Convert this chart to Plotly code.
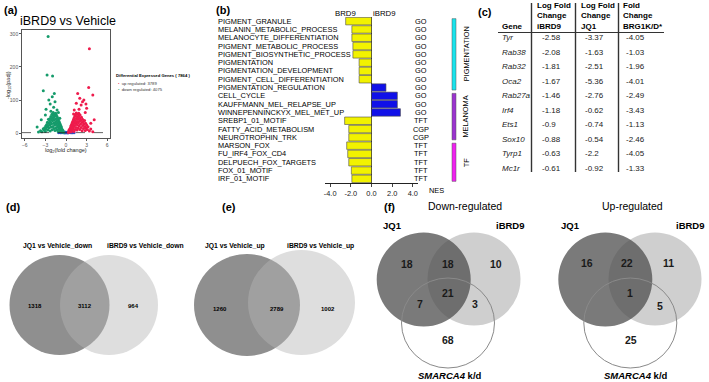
import plotly.graph_objects as go

W, H = 709, 382
FONT = "Liberation Sans, Arial, sans-serif"


def X(p):
    return p / W


def Y(p):
    return 1 - p / H


# ---------------- (a) volcano data ----------------
down_x = [-0.35, -0.4, -0.45, -0.5, -0.55, -0.6, -0.65, -0.7, -0.7, -0.75, -0.8, -0.8, -0.85, -0.9, -0.9,
          -0.95, -1.0, -1.0, -1.05, -1.1, -1.1, -1.15, -1.2, -1.2, -1.25, -1.3, -1.3, -1.35, -1.4, -1.4,
          -1.45, -1.5, -1.5, -1.55, -1.6, -1.6, -1.65, -1.7, -1.7, -1.75, -1.8, -1.8, -1.85, -1.9, -1.9,
          -1.95, -2.0, -2.0, -2.05, -2.1, -2.1, -2.15, -2.2, -2.25, -2.3, -2.3, -2.35, -2.4, -2.45, -2.5,
          -2.55, -2.6, -2.65, -2.7, -2.75, -2.8, -2.9, -2.95, -3.0, -3.1, -3.2, -3.3, -3.5, -3.7, -4.0,
          -2.6, -2.75, -1.95, -3.3, -2.0, -1.6, -2.3, -1.8, -2.9, -1.3, -2.5, -1.1, -3.6, -4.2, -1.7,
          -2.2, -3.0, -0.9]
down_y = [2, 5, 8, 3, 11, 6, 15, 9, 20, 4, 13, 24, 18, 7, 30,
          22, 12, 35, 27, 17, 40, 5, 31, 45, 22, 10, 50, 37, 28, 55,
          16, 43, 60, 33, 8, 52, 24, 58, 40, 14, 47, 30, 62, 20, 53,
          37, 10, 45, 57, 28, 40, 18, 50, 33, 6, 44, 24, 38, 15, 30,
          42, 22, 9, 33, 18, 26, 12, 21, 5, 16, 9, 13, 4, 7, 3,
          292, 176, 173, 128, 110, 95, 88, 78, 72, 70, 100, 62, 40, 18, 120,
          66, 55, 45]
up_x = [0.35, 0.4, 0.45, 0.5, 0.55, 0.6, 0.65, 0.7, 0.7, 0.75, 0.8, 0.8, 0.85, 0.9, 0.9,
        0.95, 1.0, 1.0, 1.05, 1.1, 1.1, 1.15, 1.2, 1.2, 1.25, 1.3, 1.3, 1.35, 1.4, 1.4,
        1.45, 1.5, 1.5, 1.55, 1.6, 1.6, 1.65, 1.7, 1.7, 1.75, 1.8, 1.8, 1.85, 1.9, 1.9,
        1.95, 2.0, 2.0, 2.05, 2.1, 2.15, 2.2, 2.25, 2.3, 2.35, 2.4, 2.45, 2.5, 2.55, 2.6,
        2.7, 2.75, 2.8, 2.85, 2.9, 3.0, 3.1, 3.2, 3.4, 3.6, 3.9,
        3.4, 3.3, 3.9, 1.7, 2.6, 2.2, 1.5, 3.0, 1.2, 2.0, 2.8, 4.1, 3.6, 1.9, 2.4, 2.9, 1.1]
up_y = [2, 6, 9, 3, 12, 7, 16, 10, 21, 4, 14, 26, 19, 8, 31,
        23, 13, 36, 28, 18, 42, 5, 32, 47, 23, 11, 52, 38, 29, 56,
        17, 44, 61, 34, 9, 50, 25, 57, 41, 15, 46, 31, 60, 21, 52,
        36, 11, 44, 55, 27, 39, 17, 48, 32, 7, 42, 23, 35, 14, 28,
        38, 20, 8, 30, 16, 24, 11, 19, 6, 12, 4,
        255, 138, 115, 120, 100, 85, 90, 75, 70, 105, 62, 40, 30, 72, 95, 88, 58]
ns_x = [-1.1, -0.9, -0.8, -0.7, -0.6, -0.5, -0.4, -0.3, -0.25, -0.2, -0.15, -0.1, -0.05, 0.0,
        0.05, 0.1, 0.15, 0.2, 0.25, 0.3, 0.4, 0.5, 0.6, 0.7, 0.8, 0.9, 1.0, 1.2]
ns_y = [0.6, 1.2, 0.3, 2.1, 0.8, 1.6, 0.4, 2.6, 1.0, 0.2, 1.8, 0.7, 2.9, 0.3,
        1.4, 0.9, 2.3, 0.5, 1.7, 0.2, 1.1, 2.4, 0.6, 1.5, 0.4, 1.0, 0.3, 0.8]
n_up, n_down = 3789, 4075
volcano_xticks = [-6, -3, 0, 3, 6]
volcano_yticks = [0, 100, 200, 300]

# ---------------- (b) GSEA data ----------------
gsea_terms = ["PIGMENT_GRANULE", "MELANIN_METABOLIC_PROCESS", "MELANOCYTE_DIFFERENTIATION",
              "PIGMENT_METABOLIC_PROCESS", "PIGMENT_BIOSYNTHETIC_PROCESS", "PIGMENTATION",
              "PIGMENTATION_DEVELOPMENT", "PIGMENT_CELL_DIFFERENTIATION", "PIGMENTATION_REGULATION",
              "CELL_CYCLE", "KAUFFMANN_MEL_RELAPSE_UP", "WINNEPENNINCKYX_MEL_MET_UP",
              "SREBP1_01_MOTIF", "FATTY_ACID_METABOLISM", "NEUROTROPHIN_TRK", "MARSON_FOX",
              "FU_IRF4_FOX_CD4", "DELPUECH_FOX_TARGETS", "FOX_01_MOTIF", "IRF_01_MOTIF"]
gsea_nes = [-2.5, -1.9, -1.9, -1.8, -1.8, -1.2, -1.2, -1.2, 1.4, 2.5, 2.5, 2.8,
            -2.6, -2.2, -2.2, -2.4, -2.3, -2.2, -1.95, -1.9]
gsea_source = ["GO"] * 12 + ["TFT", "CGP", "CGP", "TFT", "TFT", "TFT", "TFT", "TFT"]
gsea_groups = ["PIGMENTATION", "MELANOMA", "TF"]
gsea_group_sizes = [9, 6, 5]
gsea_group_colors = ["#19E3EC", "#9B33CF", "#F020F0"]
nes_ticks = [-4, -2, 0, 2, 4]

# ---------------- (c) table data ----------------
genes = ["Tyr", "Rab38", "Rab32", "Oca2", "Rab27a", "Irf4", "Ets1", "Sox10", "Tyrp1", "Mc1r"]
lfc_ibrd9 = [-2.58, -2.08, -1.81, -1.67, -1.46, -1.18, -0.9, -0.88, -0.63, -0.61]
lfc_jq1 = [-3.37, -1.63, -2.51, -5.36, -2.76, -0.62, -0.74, -0.54, -2.2, -0.92]
fc_brg1 = [-4.05, -1.03, -1.96, -4.01, -2.49, -3.43, -1.13, -2.46, -4.05, -1.33]
table_headers = ["Gene", "Log Fold<br>Change<br>iBRD9", "Log Fold<br>Change<br>JQ1", "Fold<br>Change<br>BRG1K/D*"]

# ---------------- (d)(e)(f) Venn counts ----------------
venn_d_titles = ["JQ1 vs Vehicle_down", "iBRD9 vs Vehicle_down"]
venn_d_counts = [1318, 3112, 964]
venn_e_titles = ["JQ1 vs Vehicle_up", "iBRD9 vs Vehicle_up"]
venn_e_counts = [1260, 2789, 1002]
# order: JQ1 only, JQ1&iBRD9, iBRD9 only, all three, JQ1&SMARCA4, iBRD9&SMARCA4, SMARCA4 only
venn_f_down = [18, 18, 10, 21, 7, 3, 68]
venn_f_up = [16, 22, 11, 1, None, 5, 25]

fig = go.Figure()

# ---------- (a) volcano ----------
RED, GREEN, BLUE = "#EE1B4C", "#159B6B", "#2F4FC4"
fig.add_trace(go.Scatter(x=ns_x, y=ns_y, mode="markers", marker=dict(color=BLUE, size=2.8),
                         xaxis="x", yaxis="y", showlegend=False, hoverinfo="skip"))
fig.add_trace(go.Scatter(x=down_x, y=down_y, mode="markers", marker=dict(color=GREEN, size=3),
                         xaxis="x", yaxis="y", showlegend=False))
fig.add_trace(go.Scatter(x=up_x, y=up_y, mode="markers", marker=dict(color=RED, size=3),
                         xaxis="x", yaxis="y", showlegend=False))

# ---------- (b) bars ----------
bar_colors = ["#F2F200" if v < 0 else "#1010E8" for v in gsea_nes]
rows = list(range(len(gsea_terms)))
fig.add_trace(go.Bar(x=gsea_nes, y=rows, orientation="h", width=0.9,
                     marker=dict(color=bar_colors, line=dict(color="#4a4a4a", width=0.6)),
                     xaxis="x2", yaxis="y2", showlegend=False))

# invisible trace to instantiate table axis
fig.add_trace(go.Scatter(x=[0], y=[0], mode="markers", marker=dict(opacity=0),
                         xaxis="x3", yaxis="y3", showlegend=False, hoverinfo="skip"))

ann = []
shapes = []


def txt(x, y, s, size=8, bold=False, anchor="center", yanchor="middle", color="black",
        xref="paper", yref="paper", textangle=0, align="center"):
    if bold:
        s = "<b>" + s + "</b>"
    ann.append(dict(x=x, y=y, xref=xref, yref=yref, text=s, showarrow=False,
                    xanchor=anchor, yanchor=yanchor, align=align, textangle=textangle,
                    font=dict(family=FONT, size=size, color=color)))


# panel labels
txt(X(2), Y(10), "(a)", 11, True, "left")
txt(X(214), Y(10), "(b)", 11, True, "left")
txt(X(476), Y(12), "(c)", 11, True, "left")
txt(X(4), Y(207), "(d)", 11, True, "left")
txt(X(220), Y(207), "(e)", 11, True, "left")
txt(X(382), Y(207), "(f)", 11, True, "left")

# (a) texts
txt(X(68), Y(21), "iBRD9 vs Vehicle", 12.5)
txt(X(66), Y(150), "log<sub>2</sub>(fold change)", 5.5, color="#222")
txt(X(8), Y(85), "-log<sub>10</sub>(padj)", 5.5, color="#222", textangle=-90)
txt(X(114), Y(75), "Differential Expressed Genes ( %d )" % (n_up + n_down), 4.2, True, "left")
txt(X(116), Y(83), "<span style='color:%s'>•</span>  up regulated: %d" % (RED, n_up), 4.2, False, "left", color="#333")
txt(X(116), Y(90), "<span style='color:%s'>•</span>  down regulated: %d" % (GREEN, n_down), 4.2, False, "left", color="#333")
shapes.append(dict(type="line", xref="x", yref="y", x0=-6.4, x1=6.4, y0=1.3, y1=1.3,
                   line=dict(color="#222", width=0.7, dash="dash")))

# (b) texts
for i, t in enumerate(gsea_terms):
    txt(X(216), i, t, 7.4, False, "left", xref="paper", yref="y2")
    txt(X(421), i, gsea_source[i], 7.4, False, "center", xref="paper", yref="y2")
txt(X(345), Y(14), "BRD9", 7.8)
txt(X(384), Y(14), "iBRD9", 7.8)
txt(X(436), Y(190), "NES", 7.4)
start = 0
for g, n, c in zip(gsea_groups, gsea_group_sizes, gsea_group_colors):
    shapes.append(dict(type="rect", xref="paper", yref="y2", x0=X(452), x1=X(456),
                       y0=start - 0.3, y1=start + n - 0.7, fillcolor=c,
                       line=dict(color="#555", width=0.5)))
    txt(X(466), start + (n - 1) / 2, g, 7.4, False, "center", xref="paper", yref="y2", textangle=-90)
    start += n

# (c) table
col_x = [500, 535, 579, 621]
val_x = [500, 540, 583, 624]
for j, h in enumerate(table_headers):
    txt(X(col_x[j]), Y(33), h, 8, True, "left", "bottom", align="left")
for i in range(len(genes)):
    txt(X(val_x[0]), i, "<i>%s</i>" % genes[i], 8, False, "left", xref="paper", yref="y3", color="#222")
    txt(X(val_x[1]), i, str(lfc_ibrd9[i]), 8, False, "left", xref="paper", yref="y3", color="#222")
    txt(X(val_x[2]), i, str(lfc_jq1[i]), 8, False, "left", xref="paper", yref="y3", color="#222")
    txt(X(val_x[3]), i, str(fc_brg1[i]), 8, False, "left", xref="paper", yref="y3", color="#222")
for vx in [531.5, 575.5, 618.5]:
    shapes.append(dict(type="line", xref="paper", yref="paper", x0=X(vx), x1=X(vx), y0=Y(3), y1=Y(172),
                       line=dict(color="#333", width=1.4)))
shapes.append(dict(type="line", xref="paper", yref="paper", x0=X(498), x1=X(664), y0=Y(32.5), y1=Y(32.5),
                   line=dict(color="#333", width=1.2)))


def circle(cx, cy, rx, ry, fill, line=None):
    shapes.append(dict(type="circle", xref="paper", yref="paper",
                       x0=X(cx - rx), x1=X(cx + rx), y0=Y(cy + ry), y1=Y(cy - ry),
                       fillcolor=fill, line=line or dict(width=0), layer="below"))


# (d)
circle(59.5, 305, 50, 50, "rgb(143,143,143)")
circle(109, 305, 49, 50, "rgba(181,181,181,0.45)")
txt(X(57), Y(246), venn_d_titles[0], 6.8, True)
txt(X(145), Y(246), venn_d_titles[1], 6.8, True)
for (xx, v) in zip([35, 85, 133], venn_d_counts):
    txt(X(xx), Y(306), str(v), 6, True)

# (e)
circle(247, 305, 53, 51, "rgb(143,143,143)")
circle(301.5, 302.5, 53.5, 52.5, "rgba(181,181,181,0.45)")
txt(X(235), Y(246), venn_e_titles[0], 6.8, True)
txt(X(320), Y(246), venn_e_titles[1], 6.8, True)
for (xx, v) in zip([220, 277, 328], venn_e_counts):
    txt(X(xx), Y(309), str(v), 6, True)


# (f)
def venn3(cx_j, cx_i, cx_s, counts, pos, title, tx):
    circle(cx_i, 279, 46.5, 46.5, "rgb(207,207,207)")
    circle(cx_j, 279.5, 47, 47, "rgba(78,78,78,0.75)")
    circle(cx_s, 323, 46.5, 45, "rgba(0,0,0,0)", dict(color="#8a8a8a", width=1))
    for (px_, py_), v in zip(pos, counts):
        if v is not None:
            txt(X(px_), Y(py_), str(v), 10.5, True, color="#1a1a1a")
    txt(X(tx), Y(206), title, 10.5)


venn3(423.7, 474, 448, venn_f_down,
      [(407, 264), (448, 264), (496, 264), (448, 293), (420, 304), (475, 304), (448, 340)],
      "Down-regulated", 465)
venn3(605.3, 655, 630.3, venn_f_up,
      [(587, 263), (627, 263), (668, 263), (630, 293), (600, 304), (660, 306), (631, 340)],
      "Up-regulated", 632)
for jx, ix, sx in [(392, 510, 450), (570, 690, 636)]:
    txt(X(jx), Y(225), "JQ1", 9.5, True)
    txt(X(ix), Y(225), "iBRD9", 9.5, True)
    txt(X(sx), Y(375), "<i>SMARCA4</i> k/d", 9.5, True)

axis_off = dict(visible=False, showgrid=False, zeroline=False)
fig.update_layout(
    width=W, height=H, autosize=False,
    margin=dict(l=0, r=0, t=0, b=0),
    paper_bgcolor="white", plot_bgcolor="rgba(0,0,0,0)",
    font=dict(family=FONT),
    showlegend=False,
    bargap=0.1,
    xaxis=dict(domain=[X(22), X(110)], range=[-6.4, 6.4], tickvals=volcano_xticks,
               showgrid=False, zeroline=False, showline=True, mirror=True, linecolor="#555", linewidth=0.6,
               ticks="outside", ticklen=2, tickcolor="#555", tickfont=dict(size=5, color="#555"), anchor="y"),
    yaxis=dict(domain=[Y(138), Y(30)], range=[-15, 312], tickvals=volcano_yticks,
               showgrid=False, zeroline=False, showline=True, mirror=True, linecolor="#555", linewidth=0.6,
               ticks="outside", ticklen=2, tickcolor="#555", tickfont=dict(size=5, color="#555"), anchor="x"),
    xaxis2=dict(domain=[X(325), X(418)], range=[-4.5, 4.5], tickvals=nes_ticks,
                ticktext=["%.1f" % t for t in nes_ticks], showgrid=False,
                zeroline=True, zerolinecolor="#222", zerolinewidth=1,
                showline=True, linecolor="#222", linewidth=1, ticks="outside", ticklen=3,
                tickfont=dict(size=7.4, color="#222"), anchor="y2"),
    yaxis2=dict(domain=[Y(183), Y(17)], range=[19.5, -0.5], visible=False, anchor="x2"),
    xaxis3=dict(domain=[X(498), X(665)], anchor="y3", **axis_off),
    yaxis3=dict(domain=[Y(175.5), Y(30.5)], range=[9.5, -0.5], anchor="x3", **axis_off),
    annotations=ann,
    shapes=shapes,
)

fig.write_html("out.html", config={"displayModeBar": False},
               post_script="document.body.style.margin='0';document.body.style.padding='0';")
